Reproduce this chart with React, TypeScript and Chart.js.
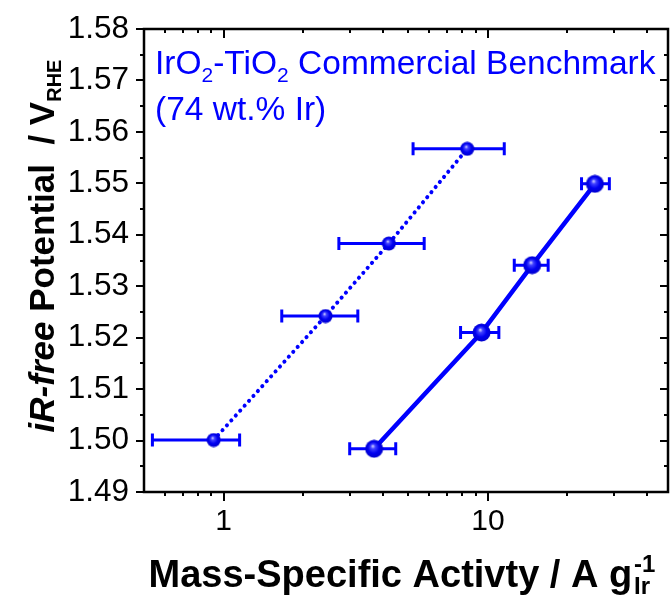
import { useEffect, useRef } from "react";
import { Chart, registerables } from "chart.js";
Chart.register(...registerables);

// ---- data ----
const dottedX = [0.917, 2.43, 4.22, 8.35];
const dottedY = [1.5001, 1.5242, 1.5383, 1.5567];
const dottedXLow = [0.538, 1.66, 2.73, 5.21];
const dottedXHigh = [1.15, 3.22, 5.74, 11.53];

const solidX = [3.71, 9.46, 14.7, 25.4];
const solidY = [1.4984, 1.521, 1.5341, 1.5499];
const solidXLow = [3.0, 7.88, 12.58, 22.6];
const solidXHigh = [4.48, 11.0, 16.9, 28.8];

const yTickValues = [1.49, 1.5, 1.51, 1.52, 1.53, 1.54, 1.55, 1.56, 1.57, 1.58];
const xTickValues = [1, 10];
const xMinorValues = [0.6, 0.7, 0.8, 0.9, 2, 3, 4, 5, 6, 7, 8, 9, 20, 30, 40];

const X_MIN = 0.5;
const X_MAX = 48;
const Y_MIN = 1.49;
const Y_MAX = 1.58;

const BLUE = "#0000ff";
const FONT = "'Liberation Sans', Arial, sans-serif";

function makeSphere(d: number): HTMLCanvasElement {
  const c = document.createElement("canvas");
  c.width = d;
  c.height = d;
  const ctx = c.getContext("2d")!;
  const r = d / 2;
  const g = ctx.createRadialGradient(r * 0.85, r * 0.7, 0, r, r, r);
  g.addColorStop(0, "#e0e0ff");
  g.addColorStop(0.25, "#4040ff");
  g.addColorStop(0.6, "#0000f0");
  g.addColorStop(1, "#0000c8");
  ctx.fillStyle = g;
  ctx.beginPath();
  ctx.arc(r, r, r - 0.5, 0, Math.PI * 2);
  ctx.fill();
  return c;
}

type Seg = { t: string; font: string; dy?: number; stackWithNext?: boolean };

function segWidth(ctx: CanvasRenderingContext2D, segs: Seg[]) {
  let w = 0;
  for (let i = 0; i < segs.length; i++) {
    const s = segs[i];
    ctx.font = s.font;
    const a = ctx.measureText(s.t).width;
    if (s.stackWithNext && i + 1 < segs.length) {
      ctx.font = segs[i + 1].font;
      const b = ctx.measureText(segs[i + 1].t).width;
      w += Math.max(a, b);
      i++;
    } else {
      w += a;
    }
  }
  return w;
}

function drawSegs(ctx: CanvasRenderingContext2D, segs: Seg[], x: number, y: number) {
  let cx = x;
  for (let i = 0; i < segs.length; i++) {
    const s = segs[i];
    ctx.font = s.font;
    ctx.fillText(s.t, cx, y + (s.dy || 0));
    let a = ctx.measureText(s.t).width;
    if (s.stackWithNext && i + 1 < segs.length) {
      const n = segs[i + 1];
      ctx.font = n.font;
      ctx.fillText(n.t, cx, y + (n.dy || 0));
      a = Math.max(a, ctx.measureText(n.t).width);
      i++;
    }
    cx += a;
  }
}

const framePlugin = {
  id: "framePlugin",
  beforeDatasetsDraw(chart: any) {
    const ctx = chart.ctx as CanvasRenderingContext2D;
    const xs = chart.scales.x;
    const ys = chart.scales.y;
    ctx.save();
    const groups = [
      { xs: dottedX, ys: dottedY, lo: dottedXLow, hi: dottedXHigh, cap: 6.5 },
      { xs: solidX, ys: solidY, lo: solidXLow, hi: solidXHigh, cap: 6.5 },
    ];
    ctx.strokeStyle = BLUE;
    ctx.lineWidth = 3;
    for (const g of groups) {
      for (let i = 0; i < g.xs.length; i++) {
        const py = ys.getPixelForValue(g.ys[i]);
        const x1 = xs.getPixelForValue(g.lo[i]);
        const x2 = xs.getPixelForValue(g.hi[i]);
        ctx.beginPath();
        ctx.moveTo(x1, py);
        ctx.lineTo(x2, py);
        ctx.moveTo(x1, py - g.cap);
        ctx.lineTo(x1, py + g.cap);
        ctx.moveTo(x2, py - g.cap);
        ctx.lineTo(x2, py + g.cap);
        ctx.stroke();
      }
    }
    ctx.restore();
  },
  afterDraw(chart: any) {
    const ctx = chart.ctx as CanvasRenderingContext2D;
    const a = chart.chartArea;
    const xs = chart.scales.x;
    const ys = chart.scales.y;
    ctx.save();
    ctx.strokeStyle = "#000";
    ctx.lineWidth = 2.5;
    ctx.strokeRect(a.left, a.top, a.right - a.left, a.bottom - a.top);
    ctx.lineWidth = 2;
    ctx.beginPath();
    for (let v = 0; v <= 18; v++) {
      const val = Y_MIN + v * 0.005;
      const py = Math.round(ys.getPixelForValue(val));
      const major = v % 2 === 0;
      const L = major ? 8 : 4;
      ctx.moveTo(a.left - L, py);
      ctx.lineTo(a.left, py);
      ctx.moveTo(a.right, py);
      ctx.lineTo(a.right - L, py);
    }
    const xt = [
      ...xTickValues.map((v) => ({ v, major: true })),
      ...xMinorValues.map((v) => ({ v, major: false })),
    ];
    for (const t of xt) {
      const px = Math.round(xs.getPixelForValue(t.v));
      const L = t.major ? 9 : 4;
      ctx.moveTo(px, a.bottom);
      ctx.lineTo(px, a.bottom + L);
      ctx.moveTo(px, a.top);
      ctx.lineTo(px, a.top + L);
    }
    ctx.stroke();

    // annotation
    ctx.fillStyle = BLUE;
    ctx.textBaseline = "alphabetic";
    ctx.textAlign = "left";
    const af = `33.5px ${FONT}`;
    const asub = `21px ${FONT}`;
    drawSegs(
      ctx,
      [
        { t: "IrO", font: af },
        { t: "2", font: asub, dy: 8 },
        { t: "-TiO", font: af },
        { t: "2", font: asub, dy: 8 },
        { t: " Commercial Benchmark", font: af },
      ],
      155,
      74
    );
    drawSegs(ctx, [{ t: "(74 wt.% Ir)", font: af }], 155, 120);

    // x title
    ctx.fillStyle = "#000";
    const xf = `bold 38px ${FONT}`;
    const xsm = `bold 24px ${FONT}`;
    const xsegs: Seg[] = [
      { t: "Mass-Specific Activty / A g", font: xf },
      { t: " ", font: `bold 7px ${FONT}` },
      { t: "-1", font: xsm, dy: -15, stackWithNext: true },
      { t: "Ir", font: xsm, dy: 7 },
    ];
    const xw = segWidth(ctx, xsegs);
    drawSegs(ctx, xsegs, 402 - xw / 2, 587);

    // y title
    const yf = `bold 35px ${FONT}`;
    const yfi = `italic bold 35px ${FONT}`;
    const ysm = `bold 20px ${FONT}`;
    const ysegs: Seg[] = [
      { t: "iR-free", font: yfi },
      { t: " Potential  / V", font: yf },
      { t: "RHE", font: ysm, dy: 7 },
    ];
    const yw = segWidth(ctx, ysegs);
    ctx.translate(54, 246);
    ctx.rotate(-Math.PI / 2);
    drawSegs(ctx, ysegs, -yw / 2, 0);
    ctx.restore();
  },
};

export default function App() {
  const ref = useRef<HTMLCanvasElement | null>(null);
  useEffect(() => {
    document.body.style.margin = "0";
    const small = makeSphere(15);
    const big = makeSphere(19);
    const chart = new Chart(ref.current!, {
      type: "scatter",
      data: {
        datasets: [
          {
            data: dottedX.map((x, i) => ({ x, y: dottedY[i] })),
            showLine: true,
            borderColor: BLUE,
            borderWidth: 4,
            borderDash: [0.1, 6.5],
            borderCapStyle: "round",
            pointStyle: small as any,
            pointRadius: 7.5,
            clip: false as any,
          },
          {
            data: solidX.map((x, i) => ({ x, y: solidY[i] })),
            showLine: true,
            borderColor: BLUE,
            borderWidth: 4.5,
            pointStyle: big as any,
            pointRadius: 9.5,
            clip: false as any,
          },
        ],
      },
      options: {
        responsive: false,
        animation: false,
        layout: { autoPadding: false, padding: { top: 29, right: 2, left: 0, bottom: 0 } },
        plugins: { legend: { display: false }, tooltip: { enabled: false } },
        scales: {
          x: {
            type: "logarithmic",
            min: X_MIN,
            max: X_MAX,
            grid: { display: false, drawTicks: false },
            border: { display: false },
            afterBuildTicks: (s: any) => {
              s.ticks = xTickValues.map((v) => ({ value: v }));
            },
            afterFit: (s: any) => {
              s.height = 103;
              s.paddingLeft = 0;
              s.paddingRight = 0;
            },
            ticks: {
              autoSkip: false,
              maxRotation: 0,
              padding: 12,
              color: "#000",
              font: { family: FONT, size: 30 },
              callback: (v: any) => String(v),
            },
          },
          y: {
            type: "linear",
            min: Y_MIN,
            max: Y_MAX,
            grid: { display: false, drawTicks: false },
            border: { display: false },
            afterBuildTicks: (s: any) => {
              s.ticks = yTickValues.map((v) => ({ value: v }));
            },
            afterFit: (s: any) => {
              s.width = 144;
              s.paddingTop = 0;
              s.paddingBottom = 0;
            },
            ticks: {
              autoSkip: false,
              padding: 15,
              color: "#000",
              font: { family: FONT, size: 31.5 },
              callback: (v: any) => Number(v).toFixed(2),
            },
          },
        },
      },
      plugins: [framePlugin],
    });
    return () => chart.destroy();
  }, []);
  return <canvas ref={ref} width={670} height={595} style={{ display: "block" }} />;
}
